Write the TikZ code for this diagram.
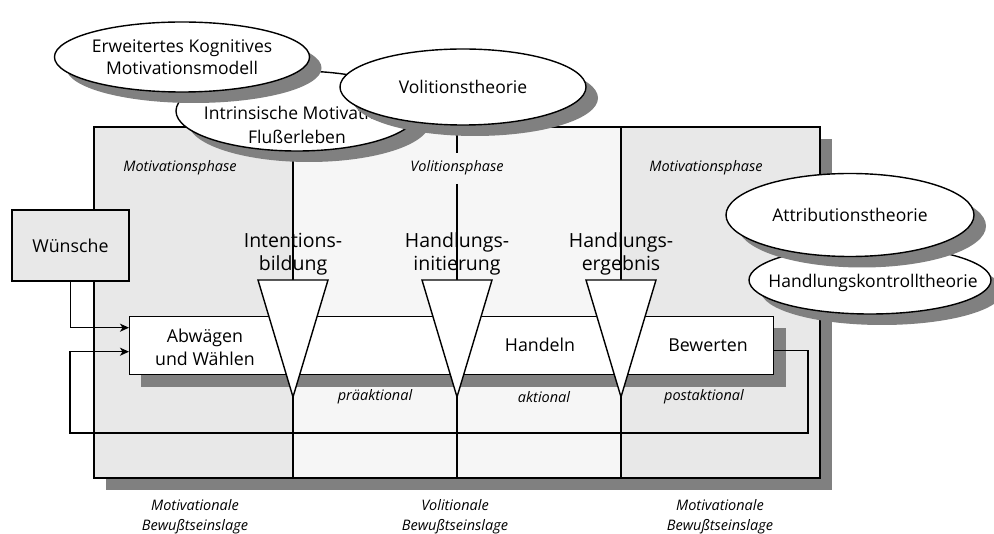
\documentclass[tikz,border=0pt]{standalone}
\usepackage{fontspec}
\setmainfont{Open Sans}
\usetikzlibrary{shapes.geometric,shadows,arrows.meta,calc}
\definecolor{phaseA}{HTML}{E8E8E8}
\definecolor{phaseB}{HTML}{F6F6F6}
\definecolor{shadowgray}{HTML}{808080}

\begin{document}
\begin{tikzpicture}[x=1pt,y=-1pt,line width=1.4pt,
  theory/.style={ellipse, draw, fill=white, inner sep=0pt, align=center,
    font=\fontsize{17.5}{22}\selectfont,
    drop shadow={shadow xshift=12pt, shadow yshift=-11pt, fill=shadowgray, opacity=1}},
  phaselabel/.style={font=\itshape\fontsize{14.5}{16}\selectfont},
  stagelabel/.style={font=\itshape\fontsize{14.5}{16}\selectfont},
  statelabel/.style={font=\itshape\fontsize{14.5}{20}\selectfont, align=center},
  barlabel/.style={font=\fontsize{17.8}{23}\selectfont, align=center},
  transition/.style={font=\fontsize{19.5}{23}\selectfont, align=center},
  arr/.style={-{Stealth[length=9pt,width=8pt,inset=2.5pt]}}]

\useasboundingbox (0,0) rectangle (994,534);

% frame of the three phases
\fill[shadowgray] (106,139) rectangle (832,490);
\fill[phaseA] (94,127) rectangle (293,478);
\fill[phaseB] (293,127) rectangle (621,478);
\fill[phaseA] (621,127) rectangle (820,478);
\draw (94,127) rectangle (820,478);
\draw (293,127) -- (293,478);
\draw (621,127) -- (621,478);
\draw (457,127) -- (457,153);
\draw (457,184) -- (457,478);

\node[phaselabel] (ph1) at (180,168) {Motivationsphase};
\node[phaselabel] (ph2) at (457,168) {Volitionsphase};
\node[phaselabel] (ph3) at (706,168) {Motivationsphase};

% feedback loop corners
\coordinate (fbR) at (808,433);
\coordinate (fbL) at (70,433);

% action bar
\fill[shadowgray] (141,328) rectangle (786,387);
\node[draw, fill=white, minimum width=644pt, minimum height=58pt, inner sep=0pt,
  anchor=north west] (bar) at (129,316) {};

\node[barlabel] (abw) at (205,347) {Abwägen\\und Wählen};
\node[barlabel] (hand) at (540,345) {Handeln};
\node[barlabel] (bew) at (708,345) {Bewerten};

% transition wedges
\draw[fill=white] (258,280) -- (328,280) -- (293,397) -- cycle;
\draw[fill=white] (422,280) -- (492,280) -- (457,397) -- cycle;
\draw[fill=white] (586,280) -- (656,280) -- (621,397) -- cycle;

\node[transition] (t1) at (293,254) {Intentions-\\bildung};
\node[transition] (t2) at (457,254) {Handlungs-\\initierung};
\node[transition] (t3) at (621,254) {Handlungs-\\ergebnis};

\node[stagelabel] (s1) at (375,397) {präaktional};
\node[stagelabel] (s2) at (544,397) {aktional};
\node[stagelabel] (s3) at (704,397) {postaktional};

% wishes
\node[draw, fill=phaseA, minimum width=117pt, minimum height=71pt, inner sep=0pt,
  font=\fontsize{17.8}{22}\selectfont] (wunsch) at (70.5,245.5) {Wünsche};

\draw[arr] (wunsch.south) |- ([yshift=18pt]bar.west);
\draw[arr] ([yshift=-5pt]bar.east) -| (fbR) -- (fbL) |- ([yshift=-6pt]bar.west);

% states of mind
\node[statelabel] (b1) at (195,517) {Motivationale\\Bewußtseinslage};
\node[statelabel] (b2) at (455,517) {Volitionale\\Bewußtseinslage};
\node[statelabel] (b3) at (720,517) {Motivationale\\Bewußtseinslage};

% theories
\node[theory, minimum width=242pt, minimum height=80pt] (intr) at (297,111) {};
\node[font=\fontsize{17.5}{24}\selectfont, align=center] at (297,125) {Intrinsische Motivation\\Flußerleben};
\node[theory, minimum width=246pt, minimum height=70pt] (erw) at (182,57) {Erweitertes Kognitives\\Motivationsmodell};
\node[theory, minimum width=246pt, minimum height=76pt] (vol) at (463,87) {Volitionstheorie};
\node[theory, minimum width=242pt, minimum height=68pt] (hkt) at (870,280) {};
\node[font=\fontsize{17.5}{22}\selectfont] at (873,283) {Handlungskontrolltheorie};
\node[theory, minimum width=248pt, minimum height=83pt] (att) at (850,215) {Attributionstheorie};

\end{tikzpicture}
\end{document}
